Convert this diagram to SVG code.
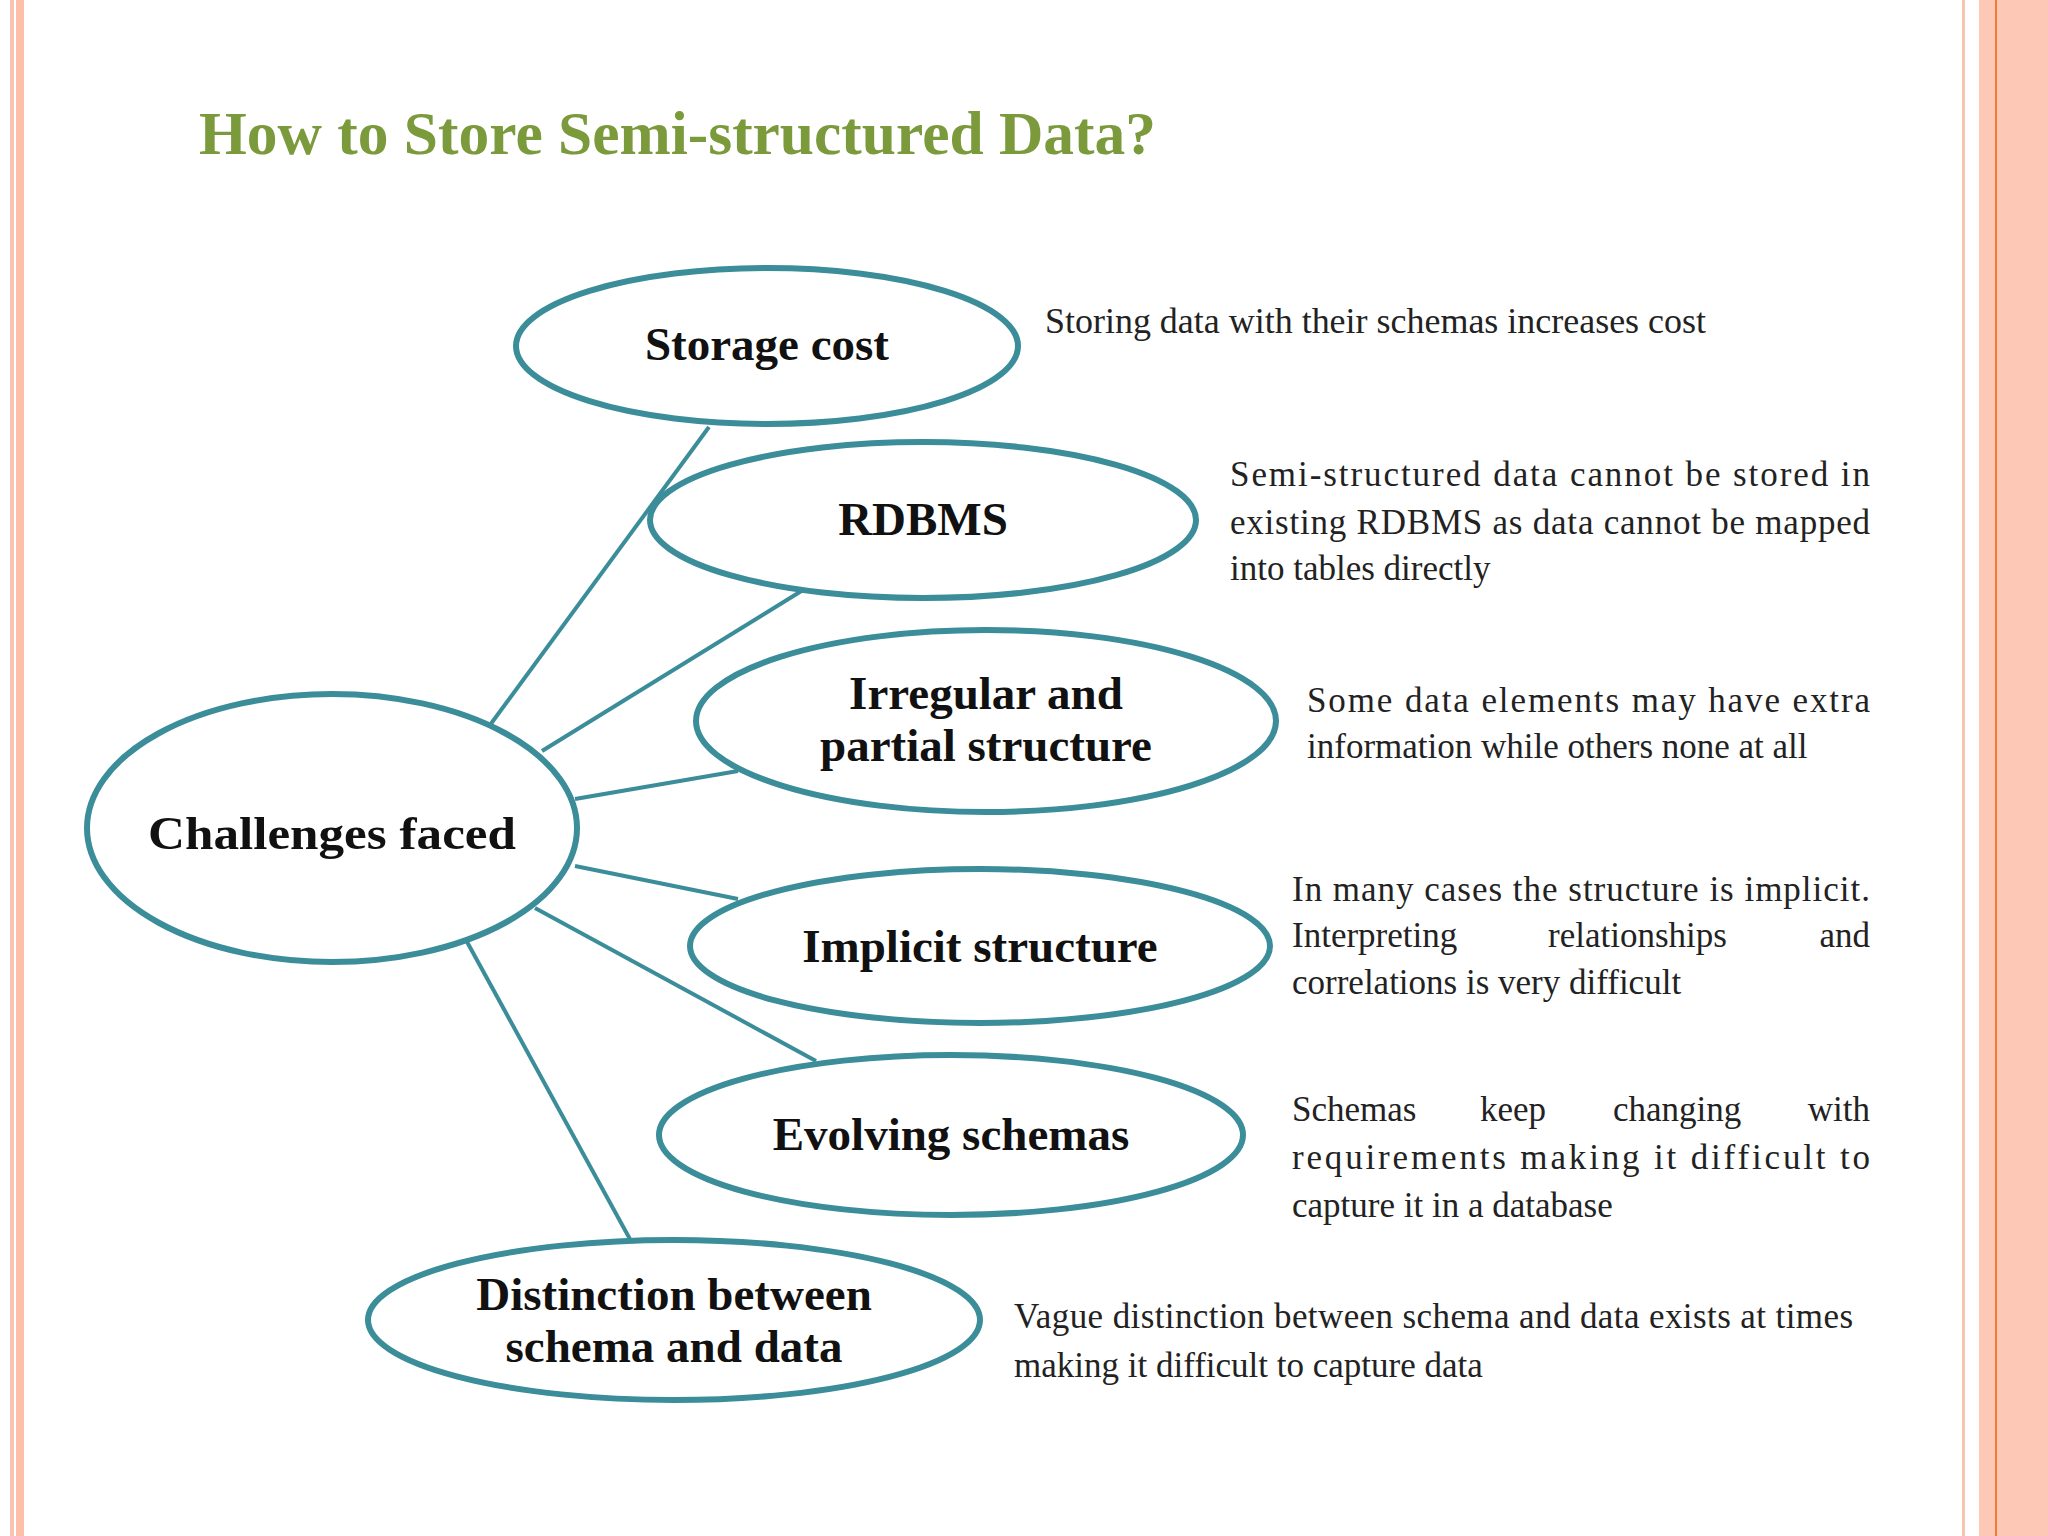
<svg xmlns="http://www.w3.org/2000/svg" width="2048" height="1536" viewBox="0 0 2048 1536">
<style>
.n{fill:none;stroke:#3b8d99;stroke-width:6}
.c line{stroke:#3b8d99;stroke-width:4}
.l{font-family:"Liberation Serif",serif;font-weight:bold;font-size:47px;fill:#111;text-anchor:middle}
.d{font-family:"Liberation Serif",serif;font-size:35px;fill:#222}
</style>
<rect width="2048" height="1536" fill="#fff"/>
<rect x="10" y="0" width="4" height="1536" fill="#f7c4b0"/>
<rect x="16" y="0" width="8" height="1536" fill="#fdbfaa"/>
<rect x="1962" y="0" width="3" height="1536" fill="#f7c4b0"/>
<rect x="1979" y="0" width="69" height="1536" fill="#fdc9b6"/>
<rect x="1995" y="0" width="2" height="1536" fill="#ec7b3a"/>
<text x="199" y="154" font-family="Liberation Serif,serif" font-weight="bold" font-size="62" fill="#7b9a3c" textLength="957" lengthAdjust="spacingAndGlyphs">How to Store Semi-structured Data?</text>
<g class="c" id="connectors">
<line x1="490" y1="725" x2="709" y2="427"/>
<line x1="542" y1="751" x2="803" y2="590"/>
<line x1="575" y1="799" x2="738" y2="771"/>
<line x1="575" y1="866" x2="738" y2="899"/>
<line x1="535" y1="908" x2="816" y2="1061"/>
<line x1="466" y1="940" x2="631" y2="1241"/>
</g>
<g id="challenges"><ellipse class="n" cx="332" cy="828" rx="245" ry="134"/><text class="l" x="332" y="849" font-size="55" textLength="368" lengthAdjust="spacingAndGlyphs">Challenges faced</text></g>
<g id="storage"><ellipse class="n" cx="767" cy="346" rx="251" ry="78"/><text class="l" x="767" y="360">Storage cost</text>
<text class="d" x="1045" y="333" textLength="661" lengthAdjust="spacingAndGlyphs">Storing data with their schemas increases cost</text></g>
<g id="rdbms"><ellipse class="n" cx="923" cy="520" rx="273" ry="78"/><text class="l" x="923" y="535">RDBMS</text>
<text class="d" x="1230" y="486" textLength="640">Semi-structured data cannot be stored in</text>
<text class="d" x="1230" y="534" textLength="640">existing RDBMS as data cannot be mapped</text>
<text class="d" x="1230" y="580">into tables directly</text></g>
<g id="irregular"><ellipse class="n" cx="986" cy="721" rx="290" ry="91"/><text class="l" x="986" y="709">Irregular  and</text><text class="l" x="986" y="761">partial structure</text>
<text class="d" x="1307" y="712" textLength="563">Some data elements may have extra</text>
<text class="d" x="1307" y="758">information while others none at all</text></g>
<g id="implicit"><ellipse class="n" cx="980" cy="946" rx="290" ry="77"/><text class="l" x="980" y="962">Implicit structure</text>
<text class="d" x="1292" y="901" textLength="578">In many cases the structure is implicit.</text>
<text class="d" x="1292" y="947">Interpreting</text><text class="d" x="1548" y="947">relationships</text><text class="d" x="1870" y="947" text-anchor="end">and</text>
<text class="d" x="1292" y="994">correlations is very difficult</text></g>
<g id="evolving"><ellipse class="n" cx="951" cy="1135" rx="292" ry="80"/><text class="l" x="951" y="1150">Evolving schemas</text>
<text class="d" x="1292" y="1121">Schemas</text><text class="d" x="1480" y="1121">keep</text><text class="d" x="1613" y="1121">changing</text><text class="d" x="1870" y="1121" text-anchor="end">with</text>
<text class="d" x="1292" y="1169" textLength="578">requirements  making  it  difficult  to</text>
<text class="d" x="1292" y="1217">capture it in a database</text></g>
<g id="distinction"><ellipse class="n" cx="674" cy="1320" rx="306" ry="80"/><text class="l" x="674" y="1310">Distinction between</text><text class="l" x="674" y="1362">schema and data</text>
<text class="d" x="1014" y="1328" textLength="839">Vague distinction between schema and data exists at times</text>
<text class="d" x="1014" y="1377">making it difficult to capture data</text></g>
</svg>
